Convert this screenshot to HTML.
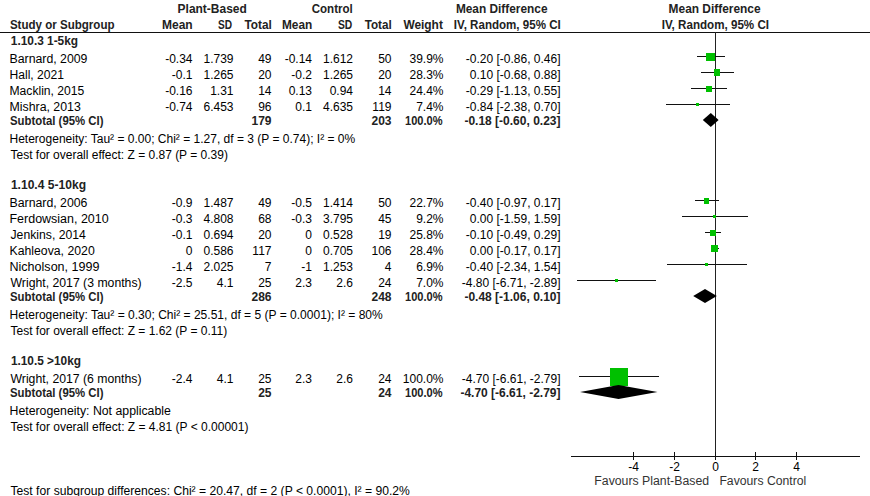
<!DOCTYPE html>
<html><head><meta charset="utf-8"><style>
html,body{margin:0;padding:0;background:#fff;overflow:hidden;}
svg{display:block;}
text{font-family:"Liberation Sans",sans-serif;font-size:12px;}

</style></head><body>
<svg width="870" height="496" viewBox="0 0 870 496">
<rect width="870" height="496" fill="#fff"/>
<rect x="0" y="32" width="870" height="1" fill="#111"/>
<rect x="715" y="32" width="1" height="424" fill="#222"/>
<rect x="697" y="56" width="28" height="1" fill="#111"/>
<rect x="706" y="53" width="9" height="8" fill="#00c000"/>
<rect x="701" y="72" width="33" height="1" fill="#111"/>
<rect x="714" y="69" width="6" height="7" fill="#00c000"/>
<rect x="691" y="88" width="36" height="1" fill="#111"/>
<rect x="706" y="86" width="6" height="6" fill="#00c000"/>
<rect x="666" y="104" width="64" height="1" fill="#111"/>
<rect x="696" y="103" width="3" height="3" fill="#00c000"/>
<polygon points="702.8,120 710.8,113 718.6,120 710.8,127" fill="#000"/>
<rect x="695" y="200" width="24" height="1" fill="#111"/>
<rect x="704" y="198" width="5" height="6" fill="#00c000"/>
<rect x="682" y="216" width="66" height="1" fill="#111"/>
<rect x="713" y="215" width="3" height="3" fill="#00c000"/>
<rect x="705" y="232" width="16" height="1" fill="#111"/>
<rect x="710" y="230" width="6" height="6" fill="#00c000"/>
<rect x="711" y="248" width="8" height="1" fill="#111"/>
<rect x="711" y="245" width="7" height="7" fill="#00c000"/>
<rect x="667" y="264" width="80" height="1" fill="#111"/>
<rect x="705" y="263" width="3" height="3" fill="#00c000"/>
<rect x="577" y="280" width="79" height="1" fill="#111"/>
<rect x="615" y="279" width="3" height="3" fill="#00c000"/>
<polygon points="693.2,296 705,289 716.8,296 705,303" fill="#000"/>
<rect x="579" y="376" width="80" height="1" fill="#111"/>
<rect x="610" y="368" width="18" height="18" fill="#00c000"/>
<polygon points="580,392 618.5,385 657.5,392 618.5,399" fill="#000"/>
<rect x="571" y="456" width="289" height="1" fill="#111"/>
<rect x="633" y="452" width="1" height="8" fill="#111"/>
<rect x="674" y="452" width="1" height="8" fill="#111"/>
<rect x="715" y="452" width="1" height="8" fill="#111"/>
<rect x="755" y="452" width="1" height="8" fill="#111"/>
<rect x="796" y="452" width="1" height="8" fill="#111"/>
<text x="177.60" y="13" font-weight="bold" fill="#222" textLength="69.16" lengthAdjust="spacingAndGlyphs">Plant-Based</text>
<text x="311.70" y="13" font-weight="bold" fill="#222" textLength="41.06" lengthAdjust="spacingAndGlyphs">Control</text>
<text x="455.90" y="13" font-weight="bold" fill="#222" textLength="91.60" lengthAdjust="spacingAndGlyphs">Mean Difference</text>
<text x="668.60" y="13" font-weight="bold" fill="#222" textLength="92.00" lengthAdjust="spacingAndGlyphs">Mean Difference</text>
<text x="9.90" y="29" font-weight="bold" fill="#222" textLength="104.66" lengthAdjust="spacingAndGlyphs">Study or Subgroup</text>
<text x="162.00" y="29" font-weight="bold" fill="#222" textLength="30.69" lengthAdjust="spacingAndGlyphs">Mean</text>
<text x="218.00" y="29" font-weight="bold" fill="#222" textLength="14.07" lengthAdjust="spacingAndGlyphs">SD</text>
<text x="244.40" y="29" font-weight="bold" fill="#222" textLength="27.38" lengthAdjust="spacingAndGlyphs">Total</text>
<text x="282.00" y="29" font-weight="bold" fill="#222" textLength="30.29" lengthAdjust="spacingAndGlyphs">Mean</text>
<text x="337.90" y="29" font-weight="bold" fill="#222" textLength="14.37" lengthAdjust="spacingAndGlyphs">SD</text>
<text x="364.70" y="29" font-weight="bold" fill="#222" textLength="27.08" lengthAdjust="spacingAndGlyphs">Total</text>
<text x="403.40" y="29" font-weight="bold" fill="#222" textLength="39.48" lengthAdjust="spacingAndGlyphs">Weight</text>
<text x="453.80" y="29" font-weight="bold" fill="#222" textLength="106.94" lengthAdjust="spacingAndGlyphs">IV, Random, 95% CI</text>
<text x="661.70" y="29" font-weight="bold" fill="#222" textLength="107.34" lengthAdjust="spacingAndGlyphs">IV, Random, 95% CI</text>
<text x="10.80" y="45" font-weight="bold" fill="#222" textLength="67.25" lengthAdjust="spacingAndGlyphs">1.10.3 1-5kg</text>
<text class="r" x="9.50" y="63" fill="#000" textLength="77.96" lengthAdjust="spacingAndGlyphs">Barnard, 2009</text>
<text class="r" x="192.5" y="63" text-anchor="end" fill="#000">-0.34</text>
<text class="r" x="233.5" y="63" text-anchor="end" fill="#000">1.739</text>
<text class="r" x="271.5" y="63" text-anchor="end" fill="#000">49</text>
<text class="r" x="312" y="63" text-anchor="end" fill="#000">-0.14</text>
<text class="r" x="353" y="63" text-anchor="end" fill="#000">1.612</text>
<text class="r" x="391.5" y="63" text-anchor="end" fill="#000">50</text>
<text class="r" x="443.5" y="63" text-anchor="end" fill="#000">39.9%</text>
<text class="r" x="560.5" y="63" text-anchor="end" fill="#000">-0.20 [-0.86, 0.46]</text>
<text class="r" x="9.50" y="79" fill="#000" textLength="54.55" lengthAdjust="spacingAndGlyphs">Hall, 2021</text>
<text class="r" x="192.5" y="79" text-anchor="end" fill="#000">-0.1</text>
<text class="r" x="233.5" y="79" text-anchor="end" fill="#000">1.265</text>
<text class="r" x="271.5" y="79" text-anchor="end" fill="#000">20</text>
<text class="r" x="312" y="79" text-anchor="end" fill="#000">-0.2</text>
<text class="r" x="353" y="79" text-anchor="end" fill="#000">1.265</text>
<text class="r" x="391.5" y="79" text-anchor="end" fill="#000">20</text>
<text class="r" x="443.5" y="79" text-anchor="end" fill="#000">28.3%</text>
<text class="r" x="560.5" y="79" text-anchor="end" fill="#000">0.10 [-0.68, 0.88]</text>
<text class="r" x="9.50" y="95" fill="#000" textLength="74.85" lengthAdjust="spacingAndGlyphs">Macklin, 2015</text>
<text class="r" x="192.5" y="95" text-anchor="end" fill="#000">-0.16</text>
<text class="r" x="233.5" y="95" text-anchor="end" fill="#000">1.31</text>
<text class="r" x="271.5" y="95" text-anchor="end" fill="#000">14</text>
<text class="r" x="312" y="95" text-anchor="end" fill="#000">0.13</text>
<text class="r" x="353" y="95" text-anchor="end" fill="#000">0.94</text>
<text class="r" x="391.5" y="95" text-anchor="end" fill="#000">14</text>
<text class="r" x="443.5" y="95" text-anchor="end" fill="#000">24.4%</text>
<text class="r" x="560.5" y="95" text-anchor="end" fill="#000">-0.29 [-1.13, 0.55]</text>
<text class="r" x="9.50" y="111" fill="#000" textLength="71.28" lengthAdjust="spacingAndGlyphs">Mishra, 2013</text>
<text class="r" x="192.5" y="111" text-anchor="end" fill="#000">-0.74</text>
<text class="r" x="233.5" y="111" text-anchor="end" fill="#000">6.453</text>
<text class="r" x="271.5" y="111" text-anchor="end" fill="#000">96</text>
<text class="r" x="312" y="111" text-anchor="end" fill="#000">0.1</text>
<text class="r" x="353" y="111" text-anchor="end" fill="#000">4.635</text>
<text class="r" x="391.5" y="111" text-anchor="end" fill="#000">119</text>
<text class="r" x="443.5" y="111" text-anchor="end" fill="#000">7.4%</text>
<text class="r" x="560.5" y="111" text-anchor="end" fill="#000">-0.84 [-2.38, 0.70]</text>
<text x="10.00" y="125" font-weight="bold" fill="#222" textLength="93.47" lengthAdjust="spacingAndGlyphs">Subtotal (95% CI)</text>
<text x="271.5" y="125" text-anchor="end" font-weight="bold" fill="#222">179</text>
<text x="391.5" y="125" text-anchor="end" font-weight="bold" fill="#222">203</text>
<text x="405.00" y="125" font-weight="bold" fill="#222" textLength="37.50" lengthAdjust="spacingAndGlyphs">100.0%</text>
<text x="560.5" y="125" text-anchor="end" font-weight="bold" fill="#222">-0.18 [-0.60, 0.23]</text>
<text class="r" x="9.50" y="143" fill="#000" textLength="345.74" lengthAdjust="spacingAndGlyphs">Heterogeneity: Tau² = 0.00; Chi² = 1.27, df = 3 (P = 0.74); I² = 0%</text>
<text class="r" x="10.50" y="159" fill="#000" textLength="217.37" lengthAdjust="spacingAndGlyphs">Test for overall effect: Z = 0.87 (P = 0.39)</text>
<text x="10.90" y="189" font-weight="bold" fill="#222" textLength="75.12" lengthAdjust="spacingAndGlyphs">1.10.4 5-10kg</text>
<text class="r" x="9.50" y="207" fill="#000" textLength="77.96" lengthAdjust="spacingAndGlyphs">Barnard, 2006</text>
<text class="r" x="192.5" y="207" text-anchor="end" fill="#000">-0.9</text>
<text class="r" x="233.5" y="207" text-anchor="end" fill="#000">1.487</text>
<text class="r" x="271.5" y="207" text-anchor="end" fill="#000">49</text>
<text class="r" x="312" y="207" text-anchor="end" fill="#000">-0.5</text>
<text class="r" x="353" y="207" text-anchor="end" fill="#000">1.414</text>
<text class="r" x="391.5" y="207" text-anchor="end" fill="#000">50</text>
<text class="r" x="443.5" y="207" text-anchor="end" fill="#000">22.7%</text>
<text class="r" x="560.5" y="207" text-anchor="end" fill="#000">-0.40 [-0.97, 0.17]</text>
<text class="r" x="9.50" y="223" fill="#000" textLength="99.19" lengthAdjust="spacingAndGlyphs">Ferdowsian, 2010</text>
<text class="r" x="192.5" y="223" text-anchor="end" fill="#000">-0.3</text>
<text class="r" x="233.5" y="223" text-anchor="end" fill="#000">4.808</text>
<text class="r" x="271.5" y="223" text-anchor="end" fill="#000">68</text>
<text class="r" x="312" y="223" text-anchor="end" fill="#000">-0.3</text>
<text class="r" x="353" y="223" text-anchor="end" fill="#000">3.795</text>
<text class="r" x="391.5" y="223" text-anchor="end" fill="#000">45</text>
<text class="r" x="443.5" y="223" text-anchor="end" fill="#000">9.2%</text>
<text class="r" x="560.5" y="223" text-anchor="end" fill="#000">0.00 [-1.59, 1.59]</text>
<text class="r" x="10.50" y="239" fill="#000" textLength="75.36" lengthAdjust="spacingAndGlyphs">Jenkins, 2014</text>
<text class="r" x="192.5" y="239" text-anchor="end" fill="#000">-0.1</text>
<text class="r" x="233.5" y="239" text-anchor="end" fill="#000">0.694</text>
<text class="r" x="271.5" y="239" text-anchor="end" fill="#000">20</text>
<text class="r" x="312" y="239" text-anchor="end" fill="#000">0</text>
<text class="r" x="353" y="239" text-anchor="end" fill="#000">0.528</text>
<text class="r" x="391.5" y="239" text-anchor="end" fill="#000">19</text>
<text class="r" x="443.5" y="239" text-anchor="end" fill="#000">25.8%</text>
<text class="r" x="560.5" y="239" text-anchor="end" fill="#000">-0.10 [-0.49, 0.29]</text>
<text class="r" x="9.50" y="255" fill="#000" textLength="85.21" lengthAdjust="spacingAndGlyphs">Kahleova, 2020</text>
<text class="r" x="192.5" y="255" text-anchor="end" fill="#000">0</text>
<text class="r" x="233.5" y="255" text-anchor="end" fill="#000">0.586</text>
<text class="r" x="271.5" y="255" text-anchor="end" fill="#000">117</text>
<text class="r" x="312" y="255" text-anchor="end" fill="#000">0</text>
<text class="r" x="353" y="255" text-anchor="end" fill="#000">0.705</text>
<text class="r" x="391.5" y="255" text-anchor="end" fill="#000">106</text>
<text class="r" x="443.5" y="255" text-anchor="end" fill="#000">28.4%</text>
<text class="r" x="560.5" y="255" text-anchor="end" fill="#000">0.00 [-0.17, 0.17]</text>
<text class="r" x="9.50" y="271" fill="#000" textLength="89.96" lengthAdjust="spacingAndGlyphs">Nicholson, 1999</text>
<text class="r" x="192.5" y="271" text-anchor="end" fill="#000">-1.4</text>
<text class="r" x="233.5" y="271" text-anchor="end" fill="#000">2.025</text>
<text class="r" x="271.5" y="271" text-anchor="end" fill="#000">7</text>
<text class="r" x="312" y="271" text-anchor="end" fill="#000">-1</text>
<text class="r" x="353" y="271" text-anchor="end" fill="#000">1.253</text>
<text class="r" x="391.5" y="271" text-anchor="end" fill="#000">4</text>
<text class="r" x="443.5" y="271" text-anchor="end" fill="#000">6.9%</text>
<text class="r" x="560.5" y="271" text-anchor="end" fill="#000">-0.40 [-2.34, 1.54]</text>
<text class="r" x="10.50" y="287" fill="#000" textLength="131.12" lengthAdjust="spacingAndGlyphs">Wright, 2017 (3 months)</text>
<text class="r" x="192.5" y="287" text-anchor="end" fill="#000">-2.5</text>
<text class="r" x="233.5" y="287" text-anchor="end" fill="#000">4.1</text>
<text class="r" x="271.5" y="287" text-anchor="end" fill="#000">25</text>
<text class="r" x="312" y="287" text-anchor="end" fill="#000">2.3</text>
<text class="r" x="353" y="287" text-anchor="end" fill="#000">2.6</text>
<text class="r" x="391.5" y="287" text-anchor="end" fill="#000">24</text>
<text class="r" x="443.5" y="287" text-anchor="end" fill="#000">7.0%</text>
<text class="r" x="560.5" y="287" text-anchor="end" fill="#000">-4.80 [-6.71, -2.89]</text>
<text x="10.00" y="301" font-weight="bold" fill="#222" textLength="93.47" lengthAdjust="spacingAndGlyphs">Subtotal (95% CI)</text>
<text x="271.5" y="301" text-anchor="end" font-weight="bold" fill="#222">286</text>
<text x="391.5" y="301" text-anchor="end" font-weight="bold" fill="#222">248</text>
<text x="405.00" y="301" font-weight="bold" fill="#222" textLength="37.50" lengthAdjust="spacingAndGlyphs">100.0%</text>
<text x="560.5" y="301" text-anchor="end" font-weight="bold" fill="#222">-0.48 [-1.06, 0.10]</text>
<text class="r" x="9.50" y="319" fill="#000" textLength="373.23" lengthAdjust="spacingAndGlyphs">Heterogeneity: Tau² = 0.30; Chi² = 25.51, df = 5 (P = 0.0001); I² = 80%</text>
<text class="r" x="10.50" y="335" fill="#000" textLength="216.78" lengthAdjust="spacingAndGlyphs">Test for overall effect: Z = 1.62 (P = 0.11)</text>
<text x="10.90" y="365" font-weight="bold" fill="#222" textLength="70.06" lengthAdjust="spacingAndGlyphs">1.10.5 &gt;10kg</text>
<text class="r" x="10.50" y="383" fill="#000" textLength="131.02" lengthAdjust="spacingAndGlyphs">Wright, 2017 (6 months)</text>
<text class="r" x="192.5" y="383" text-anchor="end" fill="#000">-2.4</text>
<text class="r" x="233.5" y="383" text-anchor="end" fill="#000">4.1</text>
<text class="r" x="271.5" y="383" text-anchor="end" fill="#000">25</text>
<text class="r" x="312" y="383" text-anchor="end" fill="#000">2.3</text>
<text class="r" x="353" y="383" text-anchor="end" fill="#000">2.6</text>
<text class="r" x="391.5" y="383" text-anchor="end" fill="#000">24</text>
<text class="r" x="443.5" y="383" text-anchor="end" fill="#000">100.0%</text>
<text class="r" x="560.5" y="383" text-anchor="end" fill="#000">-4.70 [-6.61, -2.79]</text>
<text x="10.00" y="397" font-weight="bold" fill="#222" textLength="93.47" lengthAdjust="spacingAndGlyphs">Subtotal (95% CI)</text>
<text x="271.5" y="397" text-anchor="end" font-weight="bold" fill="#222">25</text>
<text x="391.5" y="397" text-anchor="end" font-weight="bold" fill="#222">24</text>
<text x="405.00" y="397" font-weight="bold" fill="#222" textLength="37.50" lengthAdjust="spacingAndGlyphs">100.0%</text>
<text x="560.5" y="397" text-anchor="end" font-weight="bold" fill="#222">-4.70 [-6.61, -2.79]</text>
<text class="r" x="9.50" y="415" fill="#000" textLength="161.34" lengthAdjust="spacingAndGlyphs">Heterogeneity: Not applicable</text>
<text class="r" x="10.50" y="431" fill="#000" textLength="238.00" lengthAdjust="spacingAndGlyphs">Test for overall effect: Z = 4.81 (P &lt; 0.00001)</text>
<text class="r" x="10.50" y="495" fill="#000" textLength="399.34" lengthAdjust="spacingAndGlyphs">Test for subgroup differences: Chi² = 20.47, df = 2 (P &lt; 0.0001), I² = 90.2%</text>
<text class="r" x="633.5" y="471" text-anchor="middle" fill="#000">-4</text>
<text class="r" x="674.5" y="471" text-anchor="middle" fill="#000">-2</text>
<text class="r" x="715.5" y="471" text-anchor="middle" fill="#000">0</text>
<text class="r" x="755.5" y="471" text-anchor="middle" fill="#000">2</text>
<text class="r" x="796.5" y="471" text-anchor="middle" fill="#000">4</text>
<text class="r" x="594.30" y="485" fill="#333" textLength="114.76" lengthAdjust="spacingAndGlyphs">Favours Plant-Based</text>
<text class="r" x="719.40" y="485" fill="#333" textLength="86.88" lengthAdjust="spacingAndGlyphs">Favours Control</text>
</svg>
</body></html>
